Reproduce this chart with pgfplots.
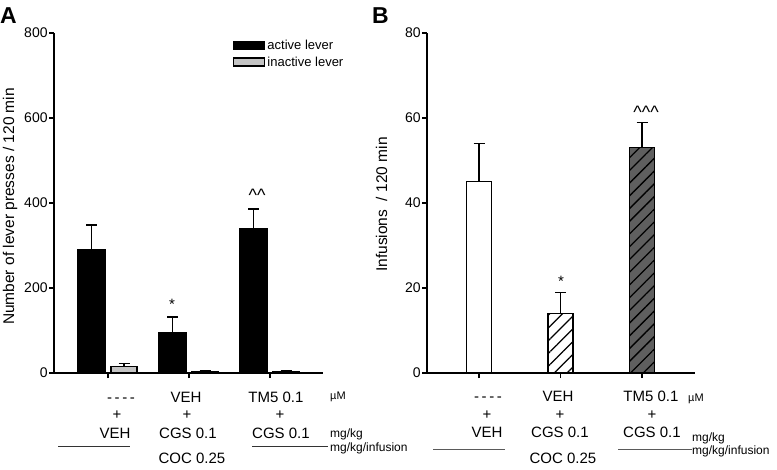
\documentclass[border=0pt]{standalone}
\usepackage{pgfplots}
\pgfplotsset{compat=1.18}
\usepackage{fontspec}
\setmainfont{Liberation Sans}
\usetikzlibrary{patterns.meta}
\definecolor{inact}{HTML}{C4C4C4}
\definecolor{dkg}{HTML}{5F5F5F}
\definecolor{lineA}{HTML}{333333}
\definecolor{lineB}{HTML}{5A5A5A}
\newcommand\fa{\fontsize{15}{17}\selectfont}
\newcommand\fu{\fontsize{12}{14}\selectfont}
\newcommand\fm{\fontsize{11}{13}\selectfont}
\newcommand\fticks{\fontsize{14}{16}\selectfont}
\newcommand\fc{\fontsize{18}{20}\selectfont}
\newcommand\dsh{-\kern2.6pt-\kern2.6pt-\kern2.6pt-}
\begin{document}
\begin{tikzpicture}
\useasboundingbox (0pt,0pt) rectangle (777pt,-469pt);
\pgfplotsset{
  myax/.style={
    scale only axis, height=340pt,
    axis x line=bottom, axis y line=left,
    axis line style={-, line width=1.6pt, black},
    major tick style={line width=1.6pt, black},
    tick align=outside, major tick length=5pt,
    xtick={0,1,2}, xticklabels={},
    ymin=0, enlargelimits=false, clip=false,
    yticklabel style={font=\fticks, inner sep=1.2pt},
    yticklabel={\pgfmathprintnumber[assume math mode=true]{\tick}},
    anchor=south west,
  },
  mybar/.style={ybar, bar shift=0pt, draw=black, line width=1.4pt,
    legend image code/.code={\draw[##1, line width=1.4pt] (0pt,-4pt) rectangle (31pt,4pt);}},
  myerr/.style={error bars/.cd, y dir=plus, y explicit,
    error bar style={line width=1.4pt, black, solid},
    error mark options={rotate=90, line width=1.4pt, mark size=5.5pt, black, solid}},
}
% ---------------- Panel A
\begin{axis}[myax, at={(54pt,-373pt)}, width=269pt, xmin=-0.667, xmax=2.654,
  ymax=800, ytick={0,200,400,600,800},
  legend style={at={(rel axis cs:0.665,0.985)}, anchor=north west, draw=none, fill=none,
    font=\fontsize{13}{15}\selectfont, row sep=1.5pt, inner sep=0pt},
  legend cell align=left]
\addplot[mybar, fill=black, bar width=27pt, myerr]
  coordinates {(-0.204,289) +- (0,59) (0.796,96) +- (0,36) (1.796,339) +- (0,47)};
\addlegendentry{active lever}
\addplot[mybar, fill=inact, bar width=26pt, myerr]
  coordinates {(0.198,15) +- (0,8) (1.198,4) +- (0,2) (2.198,4) +- (0,2)};
\addlegendentry{inactive lever}
\node[anchor=base, font=\fa, inner sep=0] at (axis cs:0.79,149) {*};
\node[anchor=base, font=\fc, inner sep=0] at (axis cs:1.84,403.8) {\textasciicircum\textasciicircum};
\end{axis}
% ---------------- Panel B
\begin{axis}[myax, at={(427pt,-373pt)}, width=268pt, xmin=-0.64, xmax=2.65,
  ymax=80, ytick={0,20,40,60,80}]
\addplot[mybar, fill=white, bar width=25pt, myerr]
  coordinates {(0,45) +- (0,9)};
\addplot[mybar, fill=white, postaction={pattern={Lines[angle=45,distance=9pt,line width=1.3pt]}},
  bar width=25pt, myerr]
  coordinates {(1,14) +- (0,5)};
\addplot[mybar, fill=dkg, postaction={pattern={Lines[angle=45,distance=9pt,line width=1.3pt]}},
  bar width=25pt, myerr]
  coordinates {(2,53) +- (0,6)};
\node[anchor=base, font=\fa, inner sep=0] at (axis cs:1.006,20.4) {*};
\node[anchor=base, font=\fc, inner sep=0] at (axis cs:2.05,60.0) {\textasciicircum\textasciicircum\textasciicircum};
\end{axis}
% ---------------- labels
\node[anchor=base west, font=\bfseries\fontsize{23}{25}\selectfont, inner sep=0] at (0pt,-23pt) {A};
\node[anchor=base west, font=\bfseries\fontsize{23}{25}\selectfont, inner sep=0] at (372pt,-23pt) {B};
\node[rotate=90, font=\fontsize{15.5}{17}\selectfont, inner sep=0] at (10pt,-206.5pt) {Number of lever presses / 120 min};
\node[rotate=90, font=\fontsize{15.5}{17}\selectfont, inner sep=0] at (381.5pt,-204.5pt) {Infusions\ \ / 120 min};
% Panel A bottom text
\begin{scope}[every node/.style={anchor=base, font=\fa, inner sep=0}]
\node at (121pt,-402pt) {\dsh};
\node at (117pt,-419pt) {+};
\node at (115pt,-438pt) {VEH};
\node at (186pt,-402pt) {VEH};
\node at (187pt,-419pt) {+};
\node at (188pt,-438pt) {CGS 0.1};
\node at (276pt,-402pt) {TM5 0.1};
\node at (280pt,-419pt) {+};
\node at (281pt,-438pt) {CGS 0.1};
\node at (192pt,-463pt) {COC 0.25};
% Panel B bottom text
\node at (488pt,-401pt) {\dsh};
\node at (487pt,-419pt) {+};
\node at (487pt,-437pt) {VEH};
\node at (558pt,-401pt) {VEH};
\node at (560pt,-419pt) {+};
\node at (560pt,-437pt) {CGS 0.1};
\node at (651pt,-401pt) {TM5 0.1};
\node at (652pt,-419pt) {+};
\node at (652pt,-437pt) {CGS 0.1};
\node at (563pt,-463pt) {COC 0.25};
\end{scope}
\begin{scope}[every node/.style={anchor=base west, inner sep=0}]
\node[font=\fm] at (330pt,-399pt) {µM};
\node[font=\fu] at (330pt,-437pt) {mg/kg};
\node[font=\fu] at (330pt,-451pt) {mg/kg/infusion};
\node[font=\fm] at (688pt,-401pt) {µM};
\node[font=\fu] at (692pt,-441.5pt) {mg/kg};
\node[font=\fu] at (692pt,-454.5pt) {mg/kg/infusion};
\end{scope}
\draw[lineA, line width=1pt] (58pt,-446.7pt) -- (130pt,-446.7pt) (252pt,-446.7pt) -- (328pt,-446.7pt);
\draw[lineB, line width=1pt] (433pt,-449.3pt) -- (505pt,-449.3pt) (618pt,-449.3pt) -- (692pt,-449.3pt);
\end{tikzpicture}
\end{document}
